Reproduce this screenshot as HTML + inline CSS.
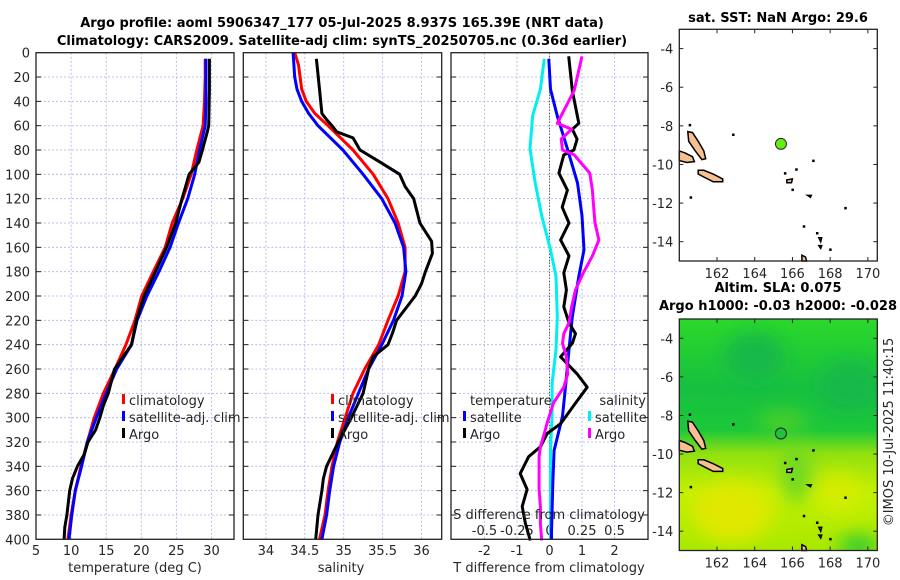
<!DOCTYPE html>
<html><head><meta charset="utf-8"><style>
body{margin:0;background:#fff;}
svg{display:block;font-family:"DejaVu Sans","Liberation Sans",sans-serif;}
.t{font-size:13px;fill:#262626;}
.b{font-weight:bold;font-size:13px;fill:#000;}
</style></head><body>
<svg id="fig" width="900" height="580" viewBox="0 0 900 580" xmlns="http://www.w3.org/2000/svg">
<defs>
<linearGradient id="slaGrad" x1="0" y1="0" x2="0" y2="1">
<stop offset="0" stop-color="#2cd82a"/><stop offset="0.3" stop-color="#16c040"/><stop offset="0.48" stop-color="#1cc83a"/><stop offset="0.58" stop-color="#90e010"/><stop offset="0.75" stop-color="#c4f000"/><stop offset="1" stop-color="#a8e800"/>
</linearGradient>
<filter id="blur"><feGaussianBlur stdDeviation="9"/></filter>
<clipPath id="clipMap2"><rect x="679.3" y="319" width="198" height="231"/></clipPath>
</defs>
<text class="b" x="342" y="27" text-anchor="middle">Argo profile: aoml 5906347_177 05-Jul-2025 8.937S 165.39E (NRT data)</text>
<text class="b" x="342" y="45" text-anchor="middle">Climatology: CARS2009. Satellite-adj clim: synTS_20250705.nc (0.36d earlier)</text>
<g id="g"></g>
</svg>
<script>
// ---- data ----
const tDepth = [5,20,40,60,80,100,120,140,160,180,200,220,240,260,280,300,320,340,360,380,400];
const tClim  = [29.1,29.1,29.0,28.8,27.9,27.1,25.9,24.4,23.4,21.7,20.05,19.1,17.8,16.25,14.6,13.3,12.3,11.4,10.6,10.0,9.55];
const tSat   = [29.2,29.2,29.2,29.1,28.3,27.6,26.6,25.3,24.1,22.5,20.8,19.4,18.6,16.5,15.0,13.6,12.3,11.5,10.6,10.1,9.7];
const argoTDepth = [5,30,60,65,80,90,100,110,120,140,160,180,200,220,240,260,280,290,300,310,320,330,340,350,360,370,380,390,400];
const argoT = [29.7,29.7,29.6,29.4,28.7,28.2,26.8,26.3,25.8,24.9,23.6,22.0,20.4,19.3,18.6,16.2,15.3,14.6,14.1,13.5,12.4,11.9,10.9,10.2,9.8,9.6,9.4,9.1,9.0];
const sDepth = [0,10,20,30,40,50,60,80,100,120,140,160,180,200,220,240,260,280,300,320,340,360,380,400];
const sClim = [34.37,34.42,34.44,34.46,34.52,34.63,34.80,35.12,35.38,35.57,35.70,35.79,35.79,35.70,35.57,35.45,35.27,35.12,35.02,34.92,34.85,34.80,34.76,34.69];
const sSat  = [34.35,34.36,34.37,34.40,34.46,34.55,34.67,34.99,35.25,35.49,35.66,35.77,35.80,35.75,35.64,35.49,35.32,35.19,35.06,34.95,34.87,34.82,34.78,34.72];
const argoSDepth = [5,30,50,55,60,65,70,80,90,100,110,120,140,155,165,180,190,200,220,230,240,250,260,280,300,320,340,350,360,380,400];
const argoS = [34.65,34.69,34.72,34.78,34.85,34.91,35.12,35.21,35.47,35.72,35.79,35.90,35.98,36.13,36.14,36.05,36.0,35.92,35.68,35.63,35.57,35.38,35.32,35.25,35.10,34.93,34.78,34.74,34.72,34.67,34.64];
const dDepth = [5,30,52,79,107,134,162,184,217,244,272,299,327,354,395,400];
const dTSat = [-0.02,0.03,0.24,0.55,0.86,1.0,1.06,0.9,0.7,0.6,0.5,0.4,0.14,0.1,0.06,0.06];
const dSSat = [-0.04,-0.07,-0.13,-0.15,-0.11,-0.06,0.008,0.05,0.06,0.05,0.02,0.02,0.008,0.008,0.008,0.008];
const dArgoDepth = [3,31,58,63,71,80,84,99,113,127,140,154,167,181,195,209,222,231,239,250,264,275,288,305,313,324,332,346,359,373,387,401];
const dArgoT = [0.59,0.7,0.9,0.7,0.85,0.75,0.44,0.29,0.55,0.39,0.6,0.34,0.6,0.44,0.52,0.44,0.6,0.8,0.7,0.34,0.85,1.16,0.8,0.34,-0.07,-0.28,-0.64,-0.9,-0.69,-0.84,-0.74,-0.59];
const dArgoS = [0.25,0.19,0.06,0.17,0.09,0.1,0.19,0.31,0.33,0.34,0.35,0.38,0.33,0.26,0.2,0.17,0.15,0.11,0.1,0.13,0.14,0.11,0.03,-0.02,-0.04,-0.07,-0.08,-0.08,-0.08,-0.07,-0.07,-0.06];
const tempTicks = [5,10,15,20,25,30];
const salTicks = [34,34.5,35,35.5,36];
const tdTicks = [-2,-1,0,1,2];
const sdTicks = [-0.5,-0.25,0,0.25,0.5];
const sdTickLabels = ["-0.5","-0.25","0","0.25","0.5"];
const lonTicks = [162,164,166,168,170];
const latTicks = [-4,-6,-8,-10,-12,-14];
const argoLon = 165.39, argoLat = -8.937;

// ---- axes ----
const Y0 = 52.7, Y1 = 539.3;
const yD = d => Y0 + d/400*(Y1-Y0);
const P1 = {x0:36, x1:234, v0:5, v1:33.2};
const P2 = {x0:243.3, x1:441.7, v0:33.71, v1:36.26};
const P3 = {x0:451, x1:648, v0:-3.03, v1:3.03};
const sx = (p,v) => p.x0 + (v-p.v0)/(p.v1-p.v0)*(p.x1-p.x0);
const M1 = {x0:679.3,x1:877.3,y0:29.3,y1:261};
const M2 = {x0:679.3,x1:877.3,y0:319,y1:550.5};
const mx = (m,lon) => m.x0 + (lon-160)/10.5*(m.x1-m.x0);
const my = (m,lat) => m.y0 + (-3-lat)/12*(m.y1-m.y0);

const NS = 'http://www.w3.org/2000/svg';
const G = document.getElementById('g');
function el(tag, attrs, parent){ const e=document.createElementNS(NS,tag); for(const k in attrs) e.setAttribute(k,attrs[k]); (parent||G).appendChild(e); return e; }
function txt(x,y,s,cls,anchor,parent){ const e=el('text',{x:x,y:y,class:cls||'t','text-anchor':anchor||'middle'},parent); e.textContent=s; return e; }

function frame(p, name){
  const g = el('g',{});
  
  
  for(let d=20; d<400; d+=20){
    el('line',{x1:p.x0,x2:p.x1,y1:yD(d),y2:yD(d),stroke:'#b8c0e8','stroke-width':1,'stroke-dasharray':'2,2'},g);
    el('line',{x1:p.x0,x2:p.x0+5,y1:yD(d),y2:yD(d),stroke:'#222'},g);
    el('line',{x1:p.x1,x2:p.x1-5,y1:yD(d),y2:yD(d),stroke:'#222'},g);
  }
  return g;
}
function line(p, vals, depths, color, name, w){
  const pts = vals.map((v,i)=> sx(p,v).toFixed(1)+','+yD(depths[i]).toFixed(1)).join(' ');
  const e = el('polyline',{points:pts,fill:'none',stroke:color,'stroke-width':w||3,'stroke-linejoin':'round'});
  
  
  return e;
}
function box(p){ el('rect',{x:p.x0,y:Y0,width:p.x1-p.x0,height:Y1-Y0,fill:'none',stroke:'#222','stroke-width':1.3}); }

// Panel 1
const g1 = frame(P1,'temperature-panel');
tempTicks.forEach(v=>{ el('line',{x1:sx(P1,v),x2:sx(P1,v),y1:Y0,y2:Y1,stroke:'#b8c0e8','stroke-dasharray':'2,2'},g1); txt(sx(P1,v),555,String(v)); });
for(let d=0; d<=400; d+=20){ const e=txt(30,yD(d)+5,String(d),'t','end'); }
line(P1,tClim,tDepth,'#ff0000','temp-climatology-line');
line(P1,tSat,tDepth,'#0000ff','temp-satellite-line');
line(P1,argoT,argoTDepth,'#000','temp-argo-line');
box(P1);
txt(135,572,'temperature (deg C)');
[['#ff0000','climatology',405],['#0000ff','satellite-adj. clim',422],['#000','Argo',439]].forEach((l,i)=>{
  el('rect',{x:122,y:l[2]-11,width:3,height:10,fill:l[0]});
  const t=txt(129,l[2],l[1],'t','start');
  
  
});

// Panel 2
const g2 = frame(P2,'salinity-panel');
salTicks.forEach(v=>{ el('line',{x1:sx(P2,v),x2:sx(P2,v),y1:Y0,y2:Y1,stroke:'#b8c0e8','stroke-dasharray':'2,2'},g2); txt(sx(P2,v),555,String(v)); });
line(P2,sClim,sDepth,'#ff0000','sal-climatology-line');
line(P2,sSat,sDepth,'#0000ff','sal-satellite-line');
line(P2,argoS,argoSDepth,'#000','sal-argo-line');
box(P2);
txt(341,572,'salinity');
[['#ff0000','climatology',405],['#0000ff','satellite-adj. clim',422],['#000','Argo',439]].forEach((l,i)=>{
  el('rect',{x:331,y:l[2]-11,width:3,height:10,fill:l[0]});
  const t=txt(338,l[2],l[1],'t','start');
  
  
});

// Panel 3
const g3 = frame(P3,'difference-panel');
tdTicks.forEach(v=>{ el('line',{x1:sx(P3,v),x2:sx(P3,v),y1:Y0,y2:Y1,stroke:'#b8c0e8','stroke-dasharray':'2,2'},g3); txt(sx(P3,v),555,String(v)); });
sdTicks.forEach((v,i)=>{ txt(sx(P3,v*4),535,sdTickLabels[i]); });
el('line',{x1:sx(P3,0),x2:sx(P3,0),y1:Y0,y2:Y1,stroke:'#333','stroke-dasharray':'1,2'});
line(P3,dSSat.map(v=>v*4),dDepth,'#00f0f0','sal-diff-satellite-line');
line(P3,dTSat,dDepth,'#0000ff','temp-diff-satellite-line');
line(P3,dArgoT,dArgoDepth,'#000','temp-diff-argo-line');
line(P3,dArgoS.map(v=>v*4),dArgoDepth,'#ff00ff','sal-diff-argo-line');
box(P3);
txt(549,519,'S difference from climatology');
txt(549,572,'T difference from climatology');
txt(470,405,'temperature','t','start');
txt(646,405,'salinity','t','end');
[['#0000ff','satellite',422,463],['#000','Argo',439,463],['#00f0f0','satellite',422,588],['#ff00ff','Argo',439,588]].forEach((l,i)=>{
  el('rect',{x:l[3],y:l[2]-11,width:3,height:10,fill:l[0]});
  const t=txt(l[3]+7,l[2],l[1],'t','start');
  
  
});

// ---- maps ----
const islands = [
  [[160.45,-8.3],[160.7,-8.35],[161.0,-8.8],[161.3,-9.3],[161.4,-9.7],[161.2,-9.75],[160.85,-9.3],[160.5,-8.8]],
  [[160.0,-9.3],[160.3,-9.4],[160.7,-9.6],[160.8,-9.85],[160.4,-9.9],[160.0,-9.8]],
  [[161.0,-10.3],[161.3,-10.3],[161.8,-10.5],[162.3,-10.75],[162.3,-10.9],[161.8,-10.9],[161.3,-10.65],[161.0,-10.5]],
  [[165.7,-10.8],[166.0,-10.75],[165.95,-10.95],[165.7,-10.95]],
  [[166.8,-11.6],[167.0,-11.6],[166.95,-11.7]],
  [[167.4,-13.8],[167.55,-13.8],[167.5,-14.0]],
  [[167.4,-14.2],[167.55,-14.2],[167.5,-14.35]],
  [[166.5,-14.7],[166.7,-14.8],[166.75,-15.0],[166.5,-15.0]]
];
const specks = [[160.55,-7.95],[162.85,-8.45],[166.2,-10.25],[165.6,-10.45],[166.0,-11.3],[167.1,-9.8],[168.8,-12.25],[166.6,-13.2],[168.0,-14.4],[167.3,-13.55],[160.6,-11.7]];
function drawMap(m, name, withSla){
  const g = el('g',{});
  
  
  if(withSla){
    const c = el('g',{'clip-path':'url(#clipMap2)'},g);
    el('rect',{x:m.x0,y:m.y0,width:m.x1-m.x0,height:m.y1-m.y0,fill:'url(#slaGrad)'},c);
    const bl = el('g',{filter:'url(#blur)'},c);
    el('ellipse',{cx:mx(m,162.8),cy:my(m,-13),rx:40,ry:30,fill:'#e0e800'},bl);
    el('ellipse',{cx:mx(m,168.5),cy:my(m,-12),rx:22,ry:20,fill:'#d4ec00'},bl);
    el('ellipse',{cx:mx(m,169.5),cy:my(m,-14.8),rx:20,ry:12,fill:'#30cc30'},bl);
    el('ellipse',{cx:mx(m,166.2),cy:my(m,-11),rx:15,ry:30,fill:'#70d820'},bl);
    el('ellipse',{cx:mx(m,164),cy:my(m,-5),rx:30,ry:25,fill:'#12b848'},bl);
    el('ellipse',{cx:mx(m,169),cy:my(m,-6.5),rx:30,ry:25,fill:'#12b848'},bl);
    el('ellipse',{cx:mx(m,165.5),cy:my(m,-8.3),rx:25,ry:10,fill:'#50d028'},bl);
  }
  islands.forEach((isl,i)=>{
    const p = el('polygon',{points:isl.map(q=>mx(m,q[0]).toFixed(1)+','+my(m,q[1]).toFixed(1)).join(' '),fill:'#f8c090',stroke:'#000','stroke-width':1.5},g);
    
    
  });
  specks.forEach(q=>{ el('rect',{x:mx(m,q[0])-1,y:my(m,q[1])-1,width:2.5,height:2.5,fill:'#000'},g); });
  const pt = el('circle',{cx:mx(m,argoLon),cy:my(m,argoLat),r:5.5,fill:withSla?'#22c040':'#66ee11',stroke:'#222','stroke-width':1},g);
  
  
  el('rect',{x:m.x0,y:m.y0,width:m.x1-m.x0,height:m.y1-m.y0,fill:'none',stroke:'#222','stroke-width':1.3},g);
  lonTicks.forEach(v=>{ el('line',{x1:mx(m,v),x2:mx(m,v),y1:m.y1,y2:m.y1-4,stroke:'#222'},g); el('line',{x1:mx(m,v),x2:mx(m,v),y1:m.y0,y2:m.y0+4,stroke:'#222'},g); txt(mx(m,v),m.y1+17,String(v),'t','middle',g); });
  latTicks.forEach(v=>{ el('line',{x1:m.x0,x2:m.x0+4,y1:my(m,v),y2:my(m,v),stroke:'#222'},g); el('line',{x1:m.x1,x2:m.x1-4,y1:my(m,v),y2:my(m,v),stroke:'#222'},g); txt(m.x0-6,my(m,v)+5,String(v),'t','end',g); });
}
drawMap(M1,'sst-map',false);
drawMap(M2,'sla-map',true);
txt(778,22,'sat. SST: NaN Argo: 29.6','b');
txt(778,292,'Altim. SLA: 0.075','b');
txt(778,310,'Argo h1000: -0.03 h2000: -0.028','b');
const cr = txt(0,0,'©IMOS 10-Jul-2025 11:40:15','t','middle');
cr.setAttribute('transform','translate(893,432) rotate(-90)');


</script>
</body></html>
